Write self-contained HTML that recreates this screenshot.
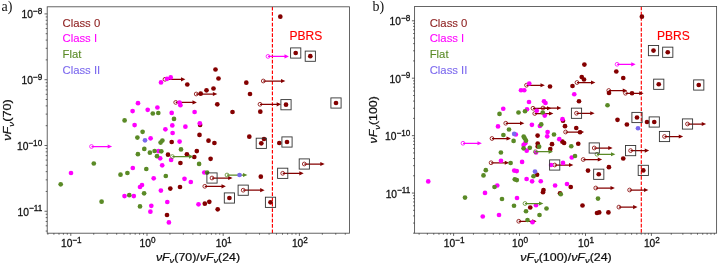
<!DOCTYPE html>
<html><head><meta charset="utf-8"><title>fig</title>
<style>
html,body{margin:0;padding:0;background:#fff;}
svg{display:block;will-change:transform;}
text{font-family:"Liberation Sans",sans-serif;fill:#111;}
.tk{font-size:11px;stroke:#111;stroke-width:0.3px;}
.sp{font-size:8.8px;}
.lg{font-size:11.3px;stroke-width:0.1px;}
.pb{font-size:12px;}
.ax{font-size:10.2px;stroke:#111;stroke-width:0.22px;}
.it{font-style:italic;}
.sb{font-size:7.7px;font-style:italic;}
.tg{font-family:"Liberation Serif",serif;font-size:14px;}
</style></head><body>
<svg width="718" height="264" viewBox="0 0 718 264">
<rect width="718" height="264" fill="#fff"/>
<clipPath id="c70"><rect x="47.2" y="6.8" width="302.3" height="226.4"/></clipPath>
<g clip-path="url(#c70)">
<line x1="272.4" x2="272.4" y1="6.8" y2="233.2" stroke="#ff0000" stroke-width="1.15" stroke-dasharray="3.7 1.6"/>
<path d="M165 79.3H183" stroke="#840000" stroke-width="1.25" fill="none"/>
<path d="M185.4 79.3l-4.4 -2.1v4.2z" fill="#840000"/>
<circle cx="165" cy="79.3" r="1.9" fill="none" stroke="#840000" stroke-width="0.8"/>
<path d="M196.2 94H214.9" stroke="#840000" stroke-width="1.25" fill="none"/>
<path d="M217.3 94l-4.4 -2.1v4.2z" fill="#840000"/>
<circle cx="196.2" cy="94" r="1.9" fill="none" stroke="#840000" stroke-width="0.8"/>
<path d="M175.7 102.4H194.5" stroke="#840000" stroke-width="1.25" fill="none"/>
<path d="M196.9 102.4l-4.4 -2.1v4.2z" fill="#840000"/>
<circle cx="175.7" cy="102.4" r="1.9" fill="none" stroke="#840000" stroke-width="0.8"/>
<path d="M260 104.3H278.7" stroke="#840000" stroke-width="1.25" fill="none"/>
<path d="M281.1 104.3l-4.4 -2.1v4.2z" fill="#840000"/>
<circle cx="260" cy="104.3" r="1.9" fill="none" stroke="#840000" stroke-width="0.8"/>
<path d="M263.3 81H283" stroke="#840000" stroke-width="1.25" fill="none"/>
<path d="M285.4 81l-4.4 -2.1v4.2z" fill="#840000"/>
<circle cx="263.3" cy="81" r="1.9" fill="none" stroke="#840000" stroke-width="0.8"/>
<path d="M204.8 186.3H223.5" stroke="#840000" stroke-width="1.25" fill="none"/>
<path d="M225.9 186.3l-4.4 -2.1v4.2z" fill="#840000"/>
<circle cx="204.8" cy="186.3" r="1.9" fill="none" stroke="#840000" stroke-width="0.8"/>
<path d="M304.3 164H322.3" stroke="#840000" stroke-width="1.25" fill="none"/>
<path d="M324.7 164l-4.4 -2.1v4.2z" fill="#840000"/>
<circle cx="304.3" cy="164" r="1.9" fill="none" stroke="#840000" stroke-width="0.8"/>
<path d="M282.7 173.3H301.3" stroke="#840000" stroke-width="1.25" fill="none"/>
<path d="M303.7 173.3l-4.4 -2.1v4.2z" fill="#840000"/>
<circle cx="282.7" cy="173.3" r="1.9" fill="none" stroke="#840000" stroke-width="0.8"/>
<path d="M212 178H230.2" stroke="#840000" stroke-width="1.25" fill="none"/>
<path d="M232.6 178l-4.4 -2.1v4.2z" fill="#840000"/>
<circle cx="212" cy="178" r="1.9" fill="none" stroke="#840000" stroke-width="0.8"/>
<path d="M243.2 190.2H262.2" stroke="#840000" stroke-width="1.25" fill="none"/>
<path d="M264.6 190.2l-4.4 -2.1v4.2z" fill="#840000"/>
<circle cx="243.2" cy="190.2" r="1.9" fill="none" stroke="#840000" stroke-width="0.8"/>
<circle cx="280.3" cy="16.7" r="2.35" fill="#840000"/>
<circle cx="215.5" cy="69.5" r="2.35" fill="#840000"/>
<circle cx="218.5" cy="78.5" r="2.35" fill="#840000"/>
<circle cx="187.3" cy="84.5" r="2.35" fill="#840000"/>
<circle cx="213.5" cy="88.5" r="2.35" fill="#840000"/>
<circle cx="206.5" cy="90.3" r="2.35" fill="#840000"/>
<circle cx="200.7" cy="93.7" r="2.35" fill="#840000"/>
<circle cx="217.3" cy="104.3" r="2.35" fill="#840000"/>
<circle cx="232.5" cy="112" r="2.35" fill="#840000"/>
<circle cx="246.3" cy="82.7" r="2.35" fill="#840000"/>
<circle cx="250" cy="94" r="2.35" fill="#840000"/>
<circle cx="260.3" cy="111.7" r="2.35" fill="#840000"/>
<circle cx="249.3" cy="136.7" r="2.35" fill="#840000"/>
<circle cx="264" cy="139" r="2.35" fill="#840000"/>
<circle cx="279.3" cy="143" r="2.35" fill="#840000"/>
<circle cx="200.1" cy="124.9" r="2.35" fill="#840000"/>
<circle cx="199.5" cy="134.9" r="2.35" fill="#840000"/>
<circle cx="208.5" cy="140.7" r="2.35" fill="#840000"/>
<circle cx="214.4" cy="143" r="2.35" fill="#840000"/>
<circle cx="171.7" cy="142" r="2.35" fill="#840000"/>
<circle cx="196.8" cy="151.1" r="2.35" fill="#840000"/>
<circle cx="186.9" cy="154.3" r="2.35" fill="#840000"/>
<circle cx="168" cy="154.7" r="2.35" fill="#840000"/>
<circle cx="194.3" cy="157" r="2.35" fill="#840000"/>
<circle cx="210.6" cy="158.8" r="2.35" fill="#840000"/>
<circle cx="180.4" cy="163" r="2.35" fill="#840000"/>
<circle cx="260.8" cy="176.7" r="2.35" fill="#840000"/>
<circle cx="180" cy="187" r="2.35" fill="#840000"/>
<circle cx="170.3" cy="188.6" r="2.35" fill="#840000"/>
<circle cx="204.8" cy="203.7" r="2.35" fill="#840000"/>
<circle cx="209.3" cy="201.8" r="2.35" fill="#840000"/>
<circle cx="217.7" cy="209.3" r="2.35" fill="#840000"/>
<circle cx="167" cy="215" r="2.35" fill="#840000"/>
<circle cx="295.7" cy="53" r="2.35" fill="#840000"/>
<circle cx="310.3" cy="56.2" r="2.35" fill="#840000"/>
<circle cx="286" cy="104.7" r="2.35" fill="#840000"/>
<circle cx="336" cy="103" r="2.35" fill="#840000"/>
<circle cx="261.3" cy="143.3" r="2.35" fill="#840000"/>
<circle cx="287" cy="142" r="2.35" fill="#840000"/>
<circle cx="229.4" cy="198" r="2.35" fill="#840000"/>
<circle cx="270.5" cy="202.3" r="2.35" fill="#840000"/>
<circle cx="161" cy="82.4" r="2.35" fill="#ff00ff"/>
<circle cx="167" cy="78.8" r="2.35" fill="#ff00ff"/>
<circle cx="170.7" cy="77.4" r="2.35" fill="#ff00ff"/>
<circle cx="179.5" cy="102.5" r="2.35" fill="#ff00ff"/>
<circle cx="180.4" cy="105.2" r="2.35" fill="#ff00ff"/>
<circle cx="157.4" cy="107.5" r="2.35" fill="#ff00ff"/>
<circle cx="138" cy="103.2" r="2.35" fill="#ff00ff"/>
<circle cx="132.6" cy="111.1" r="2.35" fill="#ff00ff"/>
<circle cx="147.7" cy="109.8" r="2.35" fill="#ff00ff"/>
<circle cx="171.7" cy="112.9" r="2.35" fill="#ff00ff"/>
<circle cx="194.6" cy="112" r="2.35" fill="#ff00ff"/>
<circle cx="199.8" cy="123.3" r="2.35" fill="#ff00ff"/>
<circle cx="134.6" cy="125.1" r="2.35" fill="#ff00ff"/>
<circle cx="172.3" cy="125.4" r="2.35" fill="#ff00ff"/>
<circle cx="185.4" cy="126.7" r="2.35" fill="#ff00ff"/>
<circle cx="165.4" cy="129.3" r="2.35" fill="#ff00ff"/>
<circle cx="172.6" cy="133" r="2.35" fill="#ff00ff"/>
<circle cx="150.6" cy="138.3" r="2.35" fill="#ff00ff"/>
<circle cx="179.6" cy="141.6" r="2.35" fill="#ff00ff"/>
<circle cx="158.5" cy="151.2" r="2.35" fill="#ff00ff"/>
<circle cx="160.2" cy="158.3" r="2.35" fill="#ff00ff"/>
<circle cx="171.1" cy="159.9" r="2.35" fill="#ff00ff"/>
<circle cx="162.2" cy="165.3" r="2.35" fill="#ff00ff"/>
<circle cx="132.8" cy="168" r="2.35" fill="#ff00ff"/>
<circle cx="153.7" cy="178.3" r="2.35" fill="#ff00ff"/>
<circle cx="184.5" cy="178.8" r="2.35" fill="#ff00ff"/>
<circle cx="190.8" cy="182" r="2.35" fill="#ff00ff"/>
<circle cx="142" cy="185" r="2.35" fill="#ff00ff"/>
<circle cx="140" cy="187" r="2.35" fill="#ff00ff"/>
<circle cx="160.9" cy="190.6" r="2.35" fill="#ff00ff"/>
<circle cx="124.5" cy="196.1" r="2.35" fill="#ff00ff"/>
<circle cx="133.8" cy="196.1" r="2.35" fill="#ff00ff"/>
<circle cx="71" cy="173" r="2.35" fill="#ff00ff"/>
<circle cx="204.3" cy="172.5" r="2.35" fill="#ff00ff"/>
<circle cx="167.3" cy="202" r="2.35" fill="#ff00ff"/>
<circle cx="151.3" cy="205.8" r="2.35" fill="#ff00ff"/>
<circle cx="150.4" cy="211.7" r="2.35" fill="#ff00ff"/>
<circle cx="198.5" cy="204.3" r="2.35" fill="#ff00ff"/>
<circle cx="168.9" cy="222.4" r="2.35" fill="#ff00ff"/>
<path d="M268 56.4H286.5" stroke="#ff00ff" stroke-width="1.25" fill="none"/>
<path d="M288.9 56.4l-4.4 -2.1v4.2z" fill="#ff00ff"/>
<circle cx="268" cy="56.4" r="1.9" fill="none" stroke="#ff00ff" stroke-width="0.8"/>
<path d="M91.5 146.5H109.7" stroke="#ff00ff" stroke-width="1.25" fill="none"/>
<path d="M112.1 146.5l-4.4 -2.1v4.2z" fill="#ff00ff"/>
<circle cx="91.5" cy="146.5" r="1.9" fill="none" stroke="#ff00ff" stroke-width="0.8"/>
<circle cx="152.8" cy="113.5" r="2.35" fill="#5a8a26"/>
<circle cx="158.3" cy="113" r="2.35" fill="#5a8a26"/>
<circle cx="124.6" cy="120.4" r="2.35" fill="#5a8a26"/>
<circle cx="174" cy="118.9" r="2.35" fill="#5a8a26"/>
<circle cx="142.6" cy="131.8" r="2.35" fill="#5a8a26"/>
<circle cx="137.4" cy="137.6" r="2.35" fill="#5a8a26"/>
<circle cx="162.4" cy="140.6" r="2.35" fill="#5a8a26"/>
<circle cx="160.6" cy="142.6" r="2.35" fill="#5a8a26"/>
<circle cx="144.3" cy="148.9" r="2.35" fill="#5a8a26"/>
<circle cx="181" cy="149.4" r="2.35" fill="#5a8a26"/>
<circle cx="154.6" cy="151" r="2.35" fill="#5a8a26"/>
<circle cx="161.3" cy="151.3" r="2.35" fill="#5a8a26"/>
<circle cx="149.9" cy="152.7" r="2.35" fill="#5a8a26"/>
<circle cx="137.9" cy="154.2" r="2.35" fill="#5a8a26"/>
<circle cx="157" cy="156.2" r="2.35" fill="#5a8a26"/>
<circle cx="199.1" cy="163.9" r="2.35" fill="#5a8a26"/>
<circle cx="146.3" cy="169" r="2.35" fill="#5a8a26"/>
<circle cx="127.4" cy="173" r="2.35" fill="#5a8a26"/>
<circle cx="120.5" cy="174.7" r="2.35" fill="#5a8a26"/>
<circle cx="165.8" cy="176" r="2.35" fill="#5a8a26"/>
<circle cx="93.8" cy="163.5" r="2.35" fill="#5a8a26"/>
<circle cx="60.7" cy="184.3" r="2.35" fill="#5a8a26"/>
<circle cx="101.6" cy="201.7" r="2.35" fill="#5a8a26"/>
<circle cx="144.1" cy="193.3" r="2.35" fill="#5a8a26"/>
<circle cx="129.3" cy="195.2" r="2.35" fill="#5a8a26"/>
<circle cx="140" cy="206.4" r="2.35" fill="#5a8a26"/>
<circle cx="207.1" cy="172.6" r="2.35" fill="#5a8a26"/>
<path d="M172.4 156.6H191" stroke="#5a8a26" stroke-width="1.25" fill="none"/>
<path d="M193.4 156.6l-4.4 -2.1v4.2z" fill="#5a8a26"/>
<circle cx="172.4" cy="156.6" r="1.9" fill="none" stroke="#5a8a26" stroke-width="0.8"/>
<path d="M227 175H245" stroke="#5a8a26" stroke-width="1.25" fill="none"/>
<path d="M247.4 175l-4.4 -2.1v4.2z" fill="#5a8a26"/>
<circle cx="227" cy="175" r="1.9" fill="none" stroke="#5a8a26" stroke-width="0.8"/>
<circle cx="145" cy="140.3" r="2.35" fill="#7b68ee"/>
<circle cx="239.5" cy="175" r="2.35" fill="#7b68ee"/>
<rect x="290.6" y="47.9" width="10.2" height="10.2" fill="none" stroke="#333" stroke-width="0.9"/>
<rect x="305.2" y="51.1" width="10.2" height="10.2" fill="none" stroke="#333" stroke-width="0.9"/>
<rect x="280.9" y="99.6" width="10.2" height="10.2" fill="none" stroke="#333" stroke-width="0.9"/>
<rect x="330.9" y="97.9" width="10.2" height="10.2" fill="none" stroke="#333" stroke-width="0.9"/>
<rect x="256.2" y="138.2" width="10.2" height="10.2" fill="none" stroke="#333" stroke-width="0.9"/>
<rect x="281.9" y="136.9" width="10.2" height="10.2" fill="none" stroke="#333" stroke-width="0.9"/>
<rect x="224.3" y="192.9" width="10.2" height="10.2" fill="none" stroke="#333" stroke-width="0.9"/>
<rect x="265.4" y="197.2" width="10.2" height="10.2" fill="none" stroke="#333" stroke-width="0.9"/>
<rect x="299.2" y="158.9" width="10.2" height="10.2" fill="none" stroke="#333" stroke-width="0.9"/>
<rect x="277.6" y="168.2" width="10.2" height="10.2" fill="none" stroke="#333" stroke-width="0.9"/>
<rect x="206.9" y="172.9" width="10.2" height="10.2" fill="none" stroke="#333" stroke-width="0.9"/>
<rect x="238.1" y="185.1" width="10.2" height="10.2" fill="none" stroke="#333" stroke-width="0.9"/>
</g>
<rect x="47.2" y="6.8" width="302.3" height="226.4" fill="none" stroke="#4a4a4a" stroke-width="0.85"/>
<path d="M47.2 13.9h-2.7M47.2 79.7h-2.7M47.2 59.89h-1.5M47.2 48.31h-1.5M47.2 40.08h-1.5M47.2 33.71h-1.5M47.2 28.5h-1.5M47.2 24.09h-1.5M47.2 20.28h-1.5M47.2 16.91h-1.5M47.2 145.5h-2.7M47.2 125.69h-1.5M47.2 114.11h-1.5M47.2 105.88h-1.5M47.2 99.51h-1.5M47.2 94.3h-1.5M47.2 89.89h-1.5M47.2 86.08h-1.5M47.2 82.71h-1.5M47.2 211.25h-2.7M47.2 191.44h-1.5M47.2 179.86h-1.5M47.2 171.63h-1.5M47.2 165.26h-1.5M47.2 160.05h-1.5M47.2 155.64h-1.5M47.2 151.83h-1.5M47.2 148.46h-1.5M47.2 231.06h-1.5M47.2 225.85h-1.5M47.2 221.44h-1.5M47.2 217.63h-1.5M47.2 214.26h-1.5M70.8 233.2v2.7M93.74 233.2v1.5M107.16 233.2v1.5M116.68 233.2v1.5M124.06 233.2v1.5M130.1 233.2v1.5M135.2 233.2v1.5M139.62 233.2v1.5M143.51 233.2v1.5M147 233.2v2.7M169.94 233.2v1.5M183.36 233.2v1.5M192.88 233.2v1.5M200.26 233.2v1.5M206.3 233.2v1.5M211.4 233.2v1.5M215.82 233.2v1.5M219.71 233.2v1.5M223.2 233.2v2.7M246.14 233.2v1.5M259.56 233.2v1.5M269.08 233.2v1.5M276.46 233.2v1.5M282.5 233.2v1.5M287.6 233.2v1.5M292.02 233.2v1.5M295.91 233.2v1.5M299.4 233.2v2.7M322.34 233.2v1.5M335.76 233.2v1.5M345.28 233.2v1.5M47.86 233.2v1.5M53.9 233.2v1.5M59 233.2v1.5M63.42 233.2v1.5M67.31 233.2v1.5" stroke="#333" stroke-width="0.75" fill="none"/>
<text transform="translate(42.2 18.4) scale(0.93 1)" text-anchor="end" class="tk">10<tspan dy="-4.3" class="sp">−8</tspan></text>
<text transform="translate(42.2 84.2) scale(0.93 1)" text-anchor="end" class="tk">10<tspan dy="-4.3" class="sp">−9</tspan></text>
<text transform="translate(42.2 150) scale(0.93 1)" text-anchor="end" class="tk">10<tspan dy="-4.3" class="sp">−10</tspan></text>
<text transform="translate(42.2 215.75) scale(0.93 1)" text-anchor="end" class="tk">10<tspan dy="-4.3" class="sp">−11</tspan></text>
<text transform="translate(71.3 247) scale(0.93 1)" text-anchor="middle" class="tk">10<tspan dy="-4.3" class="sp">−1</tspan></text>
<text transform="translate(147.5 247) scale(0.93 1)" text-anchor="middle" class="tk">10<tspan dy="-4.3" class="sp">0</tspan></text>
<text transform="translate(223.7 247) scale(0.93 1)" text-anchor="middle" class="tk">10<tspan dy="-4.3" class="sp">1</tspan></text>
<text transform="translate(299.9 247) scale(0.93 1)" text-anchor="middle" class="tk">10<tspan dy="-4.3" class="sp">2</tspan></text>
<text x="62.5" y="26.5" class="lg" style="fill:#8b1a1a;stroke:#8b1a1a">Class 0</text>
<text x="62.5" y="42.1" class="lg" style="fill:#ff00ff;stroke:#ff00ff">Class I</text>
<text x="62.5" y="58.1" class="lg" style="fill:#5a8a26;stroke:#5a8a26">Flat</text>
<text x="62.5" y="74" class="lg" style="fill:#7b68ee;stroke:#7b68ee">Class II</text>
<text x="289.5" y="39.6" class="pb" style="fill:#ff0000;stroke:#ff0000;stroke-width:0.15px">PBRS</text>
<text transform="translate(11.3 120) rotate(-90)" text-anchor="middle" class="ax" textLength="41.6" lengthAdjust="spacingAndGlyphs"><tspan class="it">νF</tspan><tspan class="sb" dy="2.3">ν</tspan><tspan dy="-2.3">(70)</tspan></text>
<text x="198" y="260.6" text-anchor="middle" class="ax" textLength="84.2" lengthAdjust="spacingAndGlyphs"><tspan class="it">νF</tspan><tspan class="sb" dy="2.3">ν</tspan><tspan dy="-2.3">(70)</tspan>/<tspan class="it">νF</tspan><tspan class="sb" dy="2.3">ν</tspan><tspan dy="-2.3">(24)</tspan></text>
<text x="1.5" y="10.6" class="tg">a)</text>
<clipPath id="c100"><rect x="414.6" y="6.5" width="302" height="226.7"/></clipPath>
<g clip-path="url(#c100)">
<line x1="641.3" x2="641.3" y1="6.5" y2="233.2" stroke="#ff0000" stroke-width="1.15" stroke-dasharray="3.7 1.6"/>
<path d="M577 82.5H593" stroke="#840000" stroke-width="1.25" fill="none"/>
<path d="M595.4 82.5l-4.4 -2.1v4.2z" fill="#840000"/>
<circle cx="577" cy="82.5" r="1.9" fill="none" stroke="#840000" stroke-width="0.8"/>
<path d="M526.5 85.25H542.5" stroke="#840000" stroke-width="1.25" fill="none"/>
<path d="M544.9 85.25l-4.4 -2.1v4.2z" fill="#840000"/>
<circle cx="526.5" cy="85.25" r="1.9" fill="none" stroke="#840000" stroke-width="0.8"/>
<path d="M608.75 90.5H624.75" stroke="#840000" stroke-width="1.25" fill="none"/>
<path d="M627.15 90.5l-4.4 -2.1v4.2z" fill="#840000"/>
<circle cx="608.75" cy="90.5" r="1.9" fill="none" stroke="#840000" stroke-width="0.8"/>
<path d="M625.5 93.25H641.25" stroke="#840000" stroke-width="1.25" fill="none"/>
<path d="M643.65 93.25l-4.4 -2.1v4.2z" fill="#840000"/>
<circle cx="625.5" cy="93.25" r="1.9" fill="none" stroke="#840000" stroke-width="0.8"/>
<path d="M533 108.25H549" stroke="#840000" stroke-width="1.25" fill="none"/>
<path d="M551.4 108.25l-4.4 -2.1v4.2z" fill="#840000"/>
<circle cx="533" cy="108.25" r="1.9" fill="none" stroke="#840000" stroke-width="0.8"/>
<path d="M543 108H559" stroke="#840000" stroke-width="1.25" fill="none"/>
<path d="M561.4 108l-4.4 -2.1v4.2z" fill="#840000"/>
<circle cx="543" cy="108" r="1.9" fill="none" stroke="#840000" stroke-width="0.8"/>
<path d="M534.75 113.5H551" stroke="#840000" stroke-width="1.25" fill="none"/>
<path d="M553.4 113.5l-4.4 -2.1v4.2z" fill="#840000"/>
<circle cx="534.75" cy="113.5" r="1.9" fill="none" stroke="#840000" stroke-width="0.8"/>
<path d="M505.75 123.25H522" stroke="#840000" stroke-width="1.25" fill="none"/>
<path d="M524.4 123.25l-4.4 -2.1v4.2z" fill="#840000"/>
<circle cx="505.75" cy="123.25" r="1.9" fill="none" stroke="#840000" stroke-width="0.8"/>
<path d="M565.6 132H581.75" stroke="#840000" stroke-width="1.25" fill="none"/>
<path d="M584.15 132l-4.4 -2.1v4.2z" fill="#840000"/>
<circle cx="565.6" cy="132" r="1.9" fill="none" stroke="#840000" stroke-width="0.8"/>
<path d="M492 138.5H508.5" stroke="#840000" stroke-width="1.25" fill="none"/>
<path d="M510.9 138.5l-4.4 -2.1v4.2z" fill="#840000"/>
<circle cx="492" cy="138.5" r="1.9" fill="none" stroke="#840000" stroke-width="0.8"/>
<path d="M491.1 162.75H506.75" stroke="#840000" stroke-width="1.25" fill="none"/>
<path d="M509.15 162.75l-4.4 -2.1v4.2z" fill="#840000"/>
<circle cx="491.1" cy="162.75" r="1.9" fill="none" stroke="#840000" stroke-width="0.8"/>
<path d="M583.25 159.5H599.75" stroke="#840000" stroke-width="1.25" fill="none"/>
<path d="M602.15 159.5l-4.4 -2.1v4.2z" fill="#840000"/>
<circle cx="583.25" cy="159.5" r="1.9" fill="none" stroke="#840000" stroke-width="0.8"/>
<path d="M595.75 188H612.5" stroke="#840000" stroke-width="1.25" fill="none"/>
<path d="M614.9 188l-4.4 -2.1v4.2z" fill="#840000"/>
<circle cx="595.75" cy="188" r="1.9" fill="none" stroke="#840000" stroke-width="0.8"/>
<path d="M629.6 190H646" stroke="#840000" stroke-width="1.25" fill="none"/>
<path d="M648.4 190l-4.4 -2.1v4.2z" fill="#840000"/>
<circle cx="629.6" cy="190" r="1.9" fill="none" stroke="#840000" stroke-width="0.8"/>
<path d="M618.9 207.1H635.1" stroke="#840000" stroke-width="1.25" fill="none"/>
<path d="M637.5 207.1l-4.4 -2.1v4.2z" fill="#840000"/>
<circle cx="618.9" cy="207.1" r="1.9" fill="none" stroke="#840000" stroke-width="0.8"/>
<path d="M518.75 221.25H534.25" stroke="#840000" stroke-width="1.25" fill="none"/>
<path d="M536.65 221.25l-4.4 -2.1v4.2z" fill="#840000"/>
<circle cx="518.75" cy="221.25" r="1.9" fill="none" stroke="#840000" stroke-width="0.8"/>
<path d="M687.5 124H703.75" stroke="#840000" stroke-width="1.25" fill="none"/>
<path d="M706.15 124l-4.4 -2.1v4.2z" fill="#840000"/>
<circle cx="687.5" cy="124" r="1.9" fill="none" stroke="#840000" stroke-width="0.8"/>
<path d="M664.5 136.5H680.75" stroke="#840000" stroke-width="1.25" fill="none"/>
<path d="M683.15 136.5l-4.4 -2.1v4.2z" fill="#840000"/>
<circle cx="664.5" cy="136.5" r="1.9" fill="none" stroke="#840000" stroke-width="0.8"/>
<path d="M630.6 150.6H646.75" stroke="#840000" stroke-width="1.25" fill="none"/>
<path d="M649.15 150.6l-4.4 -2.1v4.2z" fill="#840000"/>
<circle cx="630.6" cy="150.6" r="1.9" fill="none" stroke="#840000" stroke-width="0.8"/>
<path d="M594.25 148H610.25" stroke="#840000" stroke-width="1.25" fill="none"/>
<path d="M612.65 148l-4.4 -2.1v4.2z" fill="#840000"/>
<circle cx="594.25" cy="148" r="1.9" fill="none" stroke="#840000" stroke-width="0.8"/>
<path d="M576.5 113.25H592.25" stroke="#840000" stroke-width="1.25" fill="none"/>
<path d="M594.65 113.25l-4.4 -2.1v4.2z" fill="#840000"/>
<circle cx="576.5" cy="113.25" r="1.9" fill="none" stroke="#840000" stroke-width="0.8"/>
<path d="M554.7 165H571" stroke="#840000" stroke-width="1.25" fill="none"/>
<path d="M573.4 165l-4.4 -2.1v4.2z" fill="#840000"/>
<circle cx="554.7" cy="165" r="1.9" fill="none" stroke="#840000" stroke-width="0.8"/>
<circle cx="641.9" cy="16.7" r="2.35" fill="#840000"/>
<circle cx="584.4" cy="64.6" r="2.35" fill="#840000"/>
<circle cx="616.3" cy="71.5" r="2.35" fill="#840000"/>
<circle cx="623.25" cy="78" r="2.35" fill="#840000"/>
<circle cx="581.75" cy="77" r="2.35" fill="#840000"/>
<circle cx="584" cy="79.5" r="2.35" fill="#840000"/>
<circle cx="572.5" cy="86" r="2.35" fill="#840000"/>
<circle cx="550" cy="86.5" r="2.35" fill="#840000"/>
<circle cx="609" cy="93" r="2.35" fill="#840000"/>
<circle cx="632" cy="93.25" r="2.35" fill="#840000"/>
<circle cx="579" cy="101.25" r="2.35" fill="#840000"/>
<circle cx="563" cy="120.75" r="2.35" fill="#840000"/>
<circle cx="565" cy="126.2" r="2.35" fill="#840000"/>
<circle cx="617.5" cy="119.8" r="2.35" fill="#840000"/>
<circle cx="626.9" cy="124.5" r="2.35" fill="#840000"/>
<circle cx="647" cy="122" r="2.35" fill="#840000"/>
<circle cx="576.25" cy="128" r="2.35" fill="#840000"/>
<circle cx="580" cy="132.25" r="2.35" fill="#840000"/>
<circle cx="537.6" cy="135.6" r="2.35" fill="#840000"/>
<circle cx="562.4" cy="141.7" r="2.35" fill="#840000"/>
<circle cx="564.1" cy="143" r="2.35" fill="#840000"/>
<circle cx="537.7" cy="143.6" r="2.35" fill="#840000"/>
<circle cx="552" cy="144.2" r="2.35" fill="#840000"/>
<circle cx="537.7" cy="146.5" r="2.35" fill="#840000"/>
<circle cx="550.3" cy="149.1" r="2.35" fill="#840000"/>
<circle cx="578.25" cy="143.75" r="2.35" fill="#840000"/>
<circle cx="623.25" cy="158.5" r="2.35" fill="#840000"/>
<circle cx="608.9" cy="167.2" r="2.35" fill="#840000"/>
<circle cx="588" cy="170.6" r="2.35" fill="#840000"/>
<circle cx="537.1" cy="174.75" r="2.35" fill="#840000"/>
<circle cx="543.5" cy="190" r="2.35" fill="#840000"/>
<circle cx="543" cy="192.25" r="2.35" fill="#840000"/>
<circle cx="560" cy="193.3" r="2.35" fill="#840000"/>
<circle cx="570.75" cy="187" r="2.35" fill="#840000"/>
<circle cx="530.25" cy="207.5" r="2.35" fill="#840000"/>
<circle cx="582.5" cy="205.5" r="2.35" fill="#840000"/>
<circle cx="597" cy="213" r="2.35" fill="#840000"/>
<circle cx="599.2" cy="212.4" r="2.35" fill="#840000"/>
<circle cx="608.4" cy="212.4" r="2.35" fill="#840000"/>
<circle cx="653.5" cy="50.6" r="2.35" fill="#840000"/>
<circle cx="667.75" cy="52.25" r="2.35" fill="#840000"/>
<circle cx="658.75" cy="84.25" r="2.35" fill="#840000"/>
<circle cx="698.75" cy="85" r="2.35" fill="#840000"/>
<circle cx="637" cy="117.5" r="2.35" fill="#840000"/>
<circle cx="654.25" cy="122" r="2.35" fill="#840000"/>
<circle cx="643.3" cy="170.4" r="2.35" fill="#840000"/>
<circle cx="598.75" cy="174.25" r="2.35" fill="#840000"/>
<circle cx="529.25" cy="83.5" r="2.35" fill="#ff00ff"/>
<circle cx="521" cy="90.25" r="2.35" fill="#ff00ff"/>
<circle cx="524.25" cy="90.25" r="2.35" fill="#ff00ff"/>
<circle cx="529" cy="102" r="2.35" fill="#ff00ff"/>
<circle cx="544" cy="101.25" r="2.35" fill="#ff00ff"/>
<circle cx="545.5" cy="103" r="2.35" fill="#ff00ff"/>
<circle cx="503.25" cy="108.75" r="2.35" fill="#ff00ff"/>
<circle cx="527" cy="109.25" r="2.35" fill="#ff00ff"/>
<circle cx="536.75" cy="110.75" r="2.35" fill="#ff00ff"/>
<circle cx="544.75" cy="115.6" r="2.35" fill="#ff00ff"/>
<circle cx="562.5" cy="119.2" r="2.35" fill="#ff00ff"/>
<circle cx="574.25" cy="94.25" r="2.35" fill="#ff00ff"/>
<circle cx="531.9" cy="124.8" r="2.35" fill="#ff00ff"/>
<circle cx="498" cy="126.4" r="2.35" fill="#ff00ff"/>
<circle cx="539.9" cy="126" r="2.35" fill="#ff00ff"/>
<circle cx="515.8" cy="134.5" r="2.35" fill="#ff00ff"/>
<circle cx="547.6" cy="132" r="2.35" fill="#ff00ff"/>
<circle cx="547.2" cy="136.3" r="2.35" fill="#ff00ff"/>
<circle cx="559.3" cy="139.2" r="2.35" fill="#ff00ff"/>
<circle cx="525.3" cy="143.2" r="2.35" fill="#ff00ff"/>
<circle cx="523.6" cy="144.9" r="2.35" fill="#ff00ff"/>
<circle cx="526.7" cy="150.7" r="2.35" fill="#ff00ff"/>
<circle cx="536" cy="152.5" r="2.35" fill="#ff00ff"/>
<circle cx="501" cy="160.75" r="2.35" fill="#ff00ff"/>
<circle cx="522.1" cy="161.9" r="2.35" fill="#ff00ff"/>
<circle cx="551.1" cy="165" r="2.35" fill="#ff00ff"/>
<circle cx="563" cy="162.9" r="2.35" fill="#ff00ff"/>
<circle cx="571.75" cy="157.5" r="2.35" fill="#ff00ff"/>
<circle cx="514.25" cy="170.6" r="2.35" fill="#ff00ff"/>
<circle cx="516.75" cy="171.1" r="2.35" fill="#ff00ff"/>
<circle cx="526.6" cy="179" r="2.35" fill="#ff00ff"/>
<circle cx="532.1" cy="181.3" r="2.35" fill="#ff00ff"/>
<circle cx="540.75" cy="181.25" r="2.35" fill="#ff00ff"/>
<circle cx="555.1" cy="185.5" r="2.35" fill="#ff00ff"/>
<circle cx="567" cy="184" r="2.35" fill="#ff00ff"/>
<circle cx="497.25" cy="185.5" r="2.35" fill="#ff00ff"/>
<circle cx="485" cy="192.9" r="2.35" fill="#ff00ff"/>
<circle cx="517" cy="198" r="2.35" fill="#ff00ff"/>
<circle cx="536" cy="205.25" r="2.35" fill="#ff00ff"/>
<circle cx="499" cy="215" r="2.35" fill="#ff00ff"/>
<circle cx="482.75" cy="216.5" r="2.35" fill="#ff00ff"/>
<circle cx="532.5" cy="222.25" r="2.35" fill="#ff00ff"/>
<circle cx="428.25" cy="181.4" r="2.35" fill="#ff00ff"/>
<path d="M617.1 64.3H633.25" stroke="#ff00ff" stroke-width="1.25" fill="none"/>
<path d="M635.65 64.3l-4.4 -2.1v4.2z" fill="#ff00ff"/>
<circle cx="617.1" cy="64.3" r="1.9" fill="none" stroke="#ff00ff" stroke-width="0.8"/>
<path d="M463 143.25H479.5" stroke="#ff00ff" stroke-width="1.25" fill="none"/>
<path d="M481.9 143.25l-4.4 -2.1v4.2z" fill="#ff00ff"/>
<circle cx="463" cy="143.25" r="1.9" fill="none" stroke="#ff00ff" stroke-width="0.8"/>
<circle cx="607.5" cy="105.25" r="2.35" fill="#5a8a26"/>
<circle cx="525" cy="111.25" r="2.35" fill="#5a8a26"/>
<circle cx="518.5" cy="112.5" r="2.35" fill="#5a8a26"/>
<circle cx="499.5" cy="113.9" r="2.35" fill="#5a8a26"/>
<circle cx="542.75" cy="112.5" r="2.35" fill="#5a8a26"/>
<circle cx="541.25" cy="124.4" r="2.35" fill="#5a8a26"/>
<circle cx="509" cy="129.5" r="2.35" fill="#5a8a26"/>
<circle cx="503.4" cy="135" r="2.35" fill="#5a8a26"/>
<circle cx="554" cy="134.5" r="2.35" fill="#5a8a26"/>
<circle cx="523.7" cy="136.5" r="2.35" fill="#5a8a26"/>
<circle cx="524.7" cy="138.3" r="2.35" fill="#5a8a26"/>
<circle cx="526" cy="140.7" r="2.35" fill="#5a8a26"/>
<circle cx="513.6" cy="140.9" r="2.35" fill="#5a8a26"/>
<circle cx="539.1" cy="146.7" r="2.35" fill="#5a8a26"/>
<circle cx="523.6" cy="148.3" r="2.35" fill="#5a8a26"/>
<circle cx="529.8" cy="147.8" r="2.35" fill="#5a8a26"/>
<circle cx="500.9" cy="152.5" r="2.35" fill="#5a8a26"/>
<circle cx="510.6" cy="163" r="2.35" fill="#5a8a26"/>
<circle cx="571.25" cy="146.25" r="2.35" fill="#5a8a26"/>
<circle cx="575" cy="156" r="2.35" fill="#5a8a26"/>
<circle cx="485.8" cy="170.2" r="2.35" fill="#5a8a26"/>
<circle cx="483.5" cy="175.4" r="2.35" fill="#5a8a26"/>
<circle cx="533.5" cy="176.25" r="2.35" fill="#5a8a26"/>
<circle cx="514.8" cy="179.3" r="2.35" fill="#5a8a26"/>
<circle cx="516.8" cy="180.1" r="2.35" fill="#5a8a26"/>
<circle cx="494.5" cy="187" r="2.35" fill="#5a8a26"/>
<circle cx="502" cy="199" r="2.35" fill="#5a8a26"/>
<circle cx="560.75" cy="194.25" r="2.35" fill="#5a8a26"/>
<circle cx="598" cy="198.6" r="2.35" fill="#5a8a26"/>
<circle cx="514" cy="205.75" r="2.35" fill="#5a8a26"/>
<circle cx="546.5" cy="208.5" r="2.35" fill="#5a8a26"/>
<circle cx="526" cy="211.25" r="2.35" fill="#5a8a26"/>
<circle cx="539.5" cy="215" r="2.35" fill="#5a8a26"/>
<circle cx="527.5" cy="220" r="2.35" fill="#5a8a26"/>
<circle cx="465" cy="197.6" r="2.35" fill="#5a8a26"/>
<path d="M535.4 151.7H550.6" stroke="#5a8a26" stroke-width="1.25" fill="none"/>
<path d="M553 151.7l-4.4 -2.1v4.2z" fill="#5a8a26"/>
<circle cx="535.4" cy="151.7" r="1.9" fill="none" stroke="#5a8a26" stroke-width="0.8"/>
<path d="M597 154.25H613" stroke="#5a8a26" stroke-width="1.25" fill="none"/>
<path d="M615.4 154.25l-4.4 -2.1v4.2z" fill="#5a8a26"/>
<circle cx="597" cy="154.25" r="1.9" fill="none" stroke="#5a8a26" stroke-width="0.8"/>
<path d="M525 203.5H541" stroke="#5a8a26" stroke-width="1.25" fill="none"/>
<path d="M543.4 203.5l-4.4 -2.1v4.2z" fill="#5a8a26"/>
<circle cx="525" cy="203.5" r="1.9" fill="none" stroke="#5a8a26" stroke-width="0.8"/>
<circle cx="514.2" cy="133.9" r="2.35" fill="#7b68ee"/>
<circle cx="638" cy="128.25" r="2.35" fill="#7b68ee"/>
<circle cx="535" cy="171.6" r="2.35" fill="#7b68ee"/>
<rect x="648.4" y="45.5" width="10.2" height="10.2" fill="none" stroke="#333" stroke-width="0.9"/>
<rect x="662.65" y="47.15" width="10.2" height="10.2" fill="none" stroke="#333" stroke-width="0.9"/>
<rect x="653.65" y="79.15" width="10.2" height="10.2" fill="none" stroke="#333" stroke-width="0.9"/>
<rect x="693.65" y="79.9" width="10.2" height="10.2" fill="none" stroke="#333" stroke-width="0.9"/>
<rect x="631.9" y="112.4" width="10.2" height="10.2" fill="none" stroke="#333" stroke-width="0.9"/>
<rect x="649.15" y="116.9" width="10.2" height="10.2" fill="none" stroke="#333" stroke-width="0.9"/>
<rect x="638.2" y="165.3" width="10.2" height="10.2" fill="none" stroke="#333" stroke-width="0.9"/>
<rect x="593.65" y="169.15" width="10.2" height="10.2" fill="none" stroke="#333" stroke-width="0.9"/>
<rect x="682.4" y="118.9" width="10.2" height="10.2" fill="none" stroke="#333" stroke-width="0.9"/>
<rect x="659.4" y="131.4" width="10.2" height="10.2" fill="none" stroke="#333" stroke-width="0.9"/>
<rect x="625.5" y="145.5" width="10.2" height="10.2" fill="none" stroke="#333" stroke-width="0.9"/>
<rect x="589.15" y="142.9" width="10.2" height="10.2" fill="none" stroke="#333" stroke-width="0.9"/>
<rect x="571.4" y="108.15" width="10.2" height="10.2" fill="none" stroke="#333" stroke-width="0.9"/>
<rect x="549.6" y="159.9" width="10.2" height="10.2" fill="none" stroke="#333" stroke-width="0.9"/>
</g>
<rect x="414.6" y="6.5" width="302" height="226.7" fill="none" stroke="#4a4a4a" stroke-width="0.85"/>
<path d="M414.6 20.8h-2.7M414.6 78.2h-2.7M414.6 60.92h-1.5M414.6 50.81h-1.5M414.6 43.64h-1.5M414.6 38.08h-1.5M414.6 33.53h-1.5M414.6 29.69h-1.5M414.6 26.36h-1.5M414.6 23.43h-1.5M414.6 135.65h-2.7M414.6 118.37h-1.5M414.6 108.26h-1.5M414.6 101.09h-1.5M414.6 95.53h-1.5M414.6 90.98h-1.5M414.6 87.14h-1.5M414.6 83.81h-1.5M414.6 80.88h-1.5M414.6 193.05h-2.7M414.6 175.77h-1.5M414.6 165.66h-1.5M414.6 158.49h-1.5M414.6 152.93h-1.5M414.6 148.38h-1.5M414.6 144.54h-1.5M414.6 141.21h-1.5M414.6 138.28h-1.5M414.6 233.17h-1.5M414.6 223.06h-1.5M414.6 215.89h-1.5M414.6 210.33h-1.5M414.6 205.78h-1.5M414.6 201.94h-1.5M414.6 198.61h-1.5M414.6 195.68h-1.5M453.6 233.2v2.7M473.45 233.2v1.5M485.07 233.2v1.5M493.31 233.2v1.5M499.7 233.2v1.5M504.92 233.2v1.5M509.33 233.2v1.5M513.16 233.2v1.5M516.53 233.2v1.5M519.5 233.2v2.7M539.35 233.2v1.5M550.97 233.2v1.5M559.21 233.2v1.5M565.6 233.2v1.5M570.82 233.2v1.5M575.23 233.2v1.5M579.06 233.2v1.5M582.43 233.2v1.5M585.5 233.2v2.7M605.35 233.2v1.5M616.97 233.2v1.5M625.21 233.2v1.5M631.6 233.2v1.5M636.82 233.2v1.5M641.23 233.2v1.5M645.06 233.2v1.5M648.43 233.2v1.5M651.4 233.2v2.7M671.25 233.2v1.5M682.87 233.2v1.5M691.11 233.2v1.5M697.5 233.2v1.5M702.72 233.2v1.5M707.13 233.2v1.5M710.96 233.2v1.5M714.33 233.2v1.5M419.12 233.2v1.5M427.36 233.2v1.5M433.75 233.2v1.5M438.97 233.2v1.5M443.38 233.2v1.5M447.21 233.2v1.5M450.58 233.2v1.5" stroke="#333" stroke-width="0.75" fill="none"/>
<text transform="translate(410.3 25.3) scale(0.93 1)" text-anchor="end" class="tk">10<tspan dy="-4.3" class="sp">−8</tspan></text>
<text transform="translate(410.3 82.7) scale(0.93 1)" text-anchor="end" class="tk">10<tspan dy="-4.3" class="sp">−9</tspan></text>
<text transform="translate(410.3 140.15) scale(0.93 1)" text-anchor="end" class="tk">10<tspan dy="-4.3" class="sp">−10</tspan></text>
<text transform="translate(410.3 197.55) scale(0.93 1)" text-anchor="end" class="tk">10<tspan dy="-4.3" class="sp">−11</tspan></text>
<text transform="translate(454.1 247) scale(0.93 1)" text-anchor="middle" class="tk">10<tspan dy="-4.3" class="sp">−1</tspan></text>
<text transform="translate(520 247) scale(0.93 1)" text-anchor="middle" class="tk">10<tspan dy="-4.3" class="sp">0</tspan></text>
<text transform="translate(586 247) scale(0.93 1)" text-anchor="middle" class="tk">10<tspan dy="-4.3" class="sp">1</tspan></text>
<text transform="translate(651.9 247) scale(0.93 1)" text-anchor="middle" class="tk">10<tspan dy="-4.3" class="sp">2</tspan></text>
<text x="429.7" y="26.5" class="lg" style="fill:#8b1a1a;stroke:#8b1a1a">Class 0</text>
<text x="429.7" y="42.1" class="lg" style="fill:#ff00ff;stroke:#ff00ff">Class I</text>
<text x="429.7" y="58.1" class="lg" style="fill:#5a8a26;stroke:#5a8a26">Flat</text>
<text x="429.7" y="74" class="lg" style="fill:#7b68ee;stroke:#7b68ee">Class II</text>
<text x="657" y="39.6" class="pb" style="fill:#ff0000;stroke:#ff0000;stroke-width:0.15px">PBRS</text>
<text transform="translate(377.2 119.85) rotate(-90)" text-anchor="middle" class="ax" textLength="47.3" lengthAdjust="spacingAndGlyphs"><tspan class="it">νF</tspan><tspan class="sb" dy="2.3">ν</tspan><tspan dy="-2.3">(100)</tspan></text>
<text x="566" y="260.6" text-anchor="middle" class="ax" textLength="91.5" lengthAdjust="spacingAndGlyphs"><tspan class="it">νF</tspan><tspan class="sb" dy="2.3">ν</tspan><tspan dy="-2.3">(100)</tspan>/<tspan class="it">νF</tspan><tspan class="sb" dy="2.3">ν</tspan><tspan dy="-2.3">(24)</tspan></text>
<text x="372.5" y="10.6" class="tg">b)</text>
</svg>
</body></html>
